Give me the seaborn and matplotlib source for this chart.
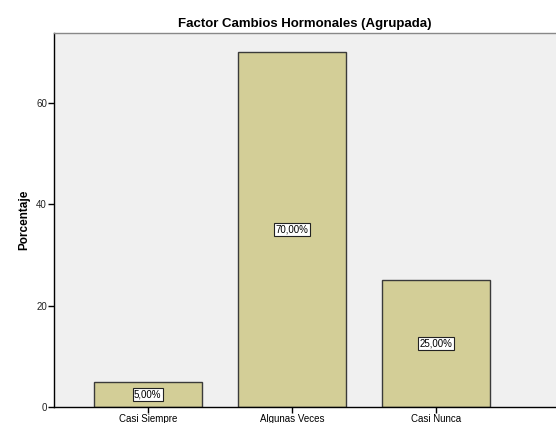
import numpy as np
import pandas as pd
import matplotlib
matplotlib.use("Agg")
import matplotlib.pyplot as plt
import seaborn as sns

categories = ["Casi Siempre", "Algunas Veces", "Casi Nunca"]
percentages = [5.0, 70.0, 25.0]
value_labels = ["5,00%", "70,00%", "25,00%"]
y_ticks = [0, 20, 40, 60]

df = pd.DataFrame({"cat": categories, "pct": percentages})

sns.set_style("white")
plt.rcParams["font.family"] = ["Liberation Sans", "DejaVu Sans"]

fig = plt.figure(figsize=(5.56, 4.23), dpi=100)
ax = fig.add_axes([54 / 556, 16 / 423, 1 - 54 / 556, (407 - 33) / 423])
ax.set_facecolor("#F0F0F0")

sns.barplot(data=df, x="cat", y="pct", ax=ax, color="#D3CE97", saturation=1,
            width=0.75, edgecolor="#3a3a3a", linewidth=1.0)

for i, (v, lab) in enumerate(zip(percentages, value_labels)):
    ax.text(i, v / 2, lab, ha="center", va="center", fontsize=7, color="black",
            bbox=dict(boxstyle="square,pad=0.15", facecolor="white",
                      edgecolor="#222222", linewidth=0.8))

ax.set_xlim(-0.65, 2.83)
ax.set_ylim(0, 73.7)
ax.set_yticks(y_ticks)
ax.set_yticklabels([str(t) for t in y_ticks], fontsize=7, color="#222222")
ax.tick_params(axis="x", bottom=True, labelsize=7, length=4, width=1,
               color="black", labelcolor="black", pad=1)
ax.tick_params(axis="y", left=True, length=4, width=1, color="black", pad=1)
ax.set_xlabel("")
ax.set_ylabel("Porcentaje", fontsize=8.5, fontweight="bold", color="black", labelpad=4)
ax.set_title("Factor Cambios Hormonales (Agrupada)", fontsize=9.5, fontweight="bold",
             color="black", pad=4)

for s in ["left", "bottom"]:
    ax.spines[s].set_color("black")
    ax.spines[s].set_linewidth(1)
ax.spines["top"].set_color("#888888")
ax.spines["top"].set_linewidth(1)
ax.spines["right"].set_visible(False)

fig.savefig("out.png", dpi=100)
